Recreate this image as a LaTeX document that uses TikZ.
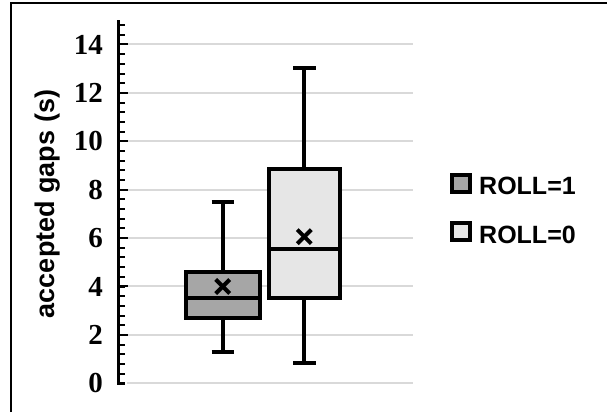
\documentclass[tikz,border=0pt]{standalone}
\usepackage{fontspec}
\setmainfont{Liberation Serif}
\setsansfont{Liberation Sans}
\definecolor{gridc}{HTML}{D9D9D9}
\definecolor{boxA}{HTML}{A6A6A6}
\definecolor{boxB}{HTML}{E6E6E6}
\begin{document}
\begin{tikzpicture}[x=1pt,y=1pt,
  gridline/.style={gridc, line width=2pt},
  boxline/.style={line width=4pt, black},
  whisk/.style={line width=4pt, black},
  meanmark/.style={line width=4pt, black},
  ticklab/.style={font=\fontsize{29}{29}\selectfont\bfseries, anchor=east, inner sep=0pt},
  leglab/.style={font=\fontsize{25}{25}\selectfont\sffamily\bfseries, anchor=base west, inner sep=0pt},
  axlab/.style={font=\fontsize{27}{27}\selectfont\sffamily\bfseries, rotate=90, inner sep=0pt},
  tickmark/.style={line width=2pt, black}]
\useasboundingbox (0,0) rectangle (607,412);
\fill[white] (0,0) rectangle (607,412);
\draw[line width=2pt] (11,0) -- (11,409) -- (607,409);
\node[axlab] (ylab) at (47.5,208) {accepted gaps (s)};
\begin{scope}[yshift=28.7pt, y=24.2pt]
  \foreach \v in {0,2,...,14} \draw[gridline] (127,\v) -- (413,\v);
  \foreach \v in {0,2,...,14} \node[ticklab] (t\v) at (103,\v) {\v};
  \foreach \i in {1,...,37} \draw[tickmark] (118.5,{\i*0.4}) -- ++(6,0);
  \foreach \v in {2,4,...,14} \draw[tickmark] (118.5,\v) -- ++(9,0);
  \draw[line width=2.5pt, line join=miter] (118.5,15) -- (118.5,0) -- (125,0);
  % box ROLL=1
  \draw[whisk] (222.7,4.61) -- (222.7,7.49);
  \draw[whisk] (211.5,7.49) -- (234,7.49);
  \draw[whisk] (222.7,2.71) -- (222.7,1.30);
  \draw[whisk] (211.5,1.30) -- (234,1.30);
  \draw[boxline, fill=boxA] (186.3,2.71) rectangle (260,4.61);
  \draw[boxline] (186.3,3.51) -- (260,3.51);
  \coordinate (m1) at (222.7,4.0);
  \draw[meanmark] ([shift={(-7pt,-7pt)}]m1) -- ([shift={(7pt,7pt)}]m1);
  \draw[meanmark] ([shift={(-7pt,7pt)}]m1) -- ([shift={(7pt,-7pt)}]m1);
  % box ROLL=0
  \draw[whisk] (304.3,8.84) -- (304.3,13.02);
  \draw[whisk] (293.3,13.02) -- (315.5,13.02);
  \draw[whisk] (304.3,3.51) -- (304.3,0.83);
  \draw[whisk] (293.3,0.83) -- (315.5,0.83);
  \draw[boxline, fill=boxB] (269,3.51) rectangle (340.3,8.84);
  \draw[boxline] (269,5.55) -- (340.3,5.55);
  \coordinate (m0) at (304.3,6.06);
  \draw[meanmark] ([shift={(-7pt,-7pt)}]m0) -- ([shift={(7pt,7pt)}]m0);
  \draw[meanmark] ([shift={(-7pt,7pt)}]m0) -- ([shift={(7pt,-7pt)}]m0);
\end{scope}
% legend
\draw[boxline, fill=boxA] (452,219.7) rectangle (469.7,236.7);
\draw[boxline, fill=boxB] (452,172) rectangle (469.7,189);
\node[leglab] (l1) at (479,217) {ROLL=1};
\node[leglab] (l0) at (479,168.7) {ROLL=0};
\end{tikzpicture}
\end{document}
